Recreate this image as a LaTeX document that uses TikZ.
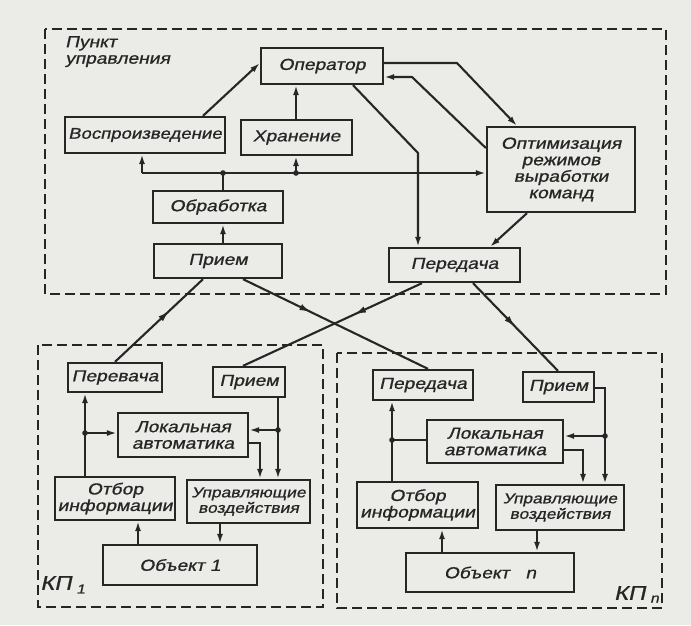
\documentclass[tikz,border=0pt]{standalone}
\usepackage{fontspec}
\newfontfamily\dfont{Liberation Sans}[FakeStretch=1.2,FakeSlant=0.22,FakeBold=0.9]
\usetikzlibrary{arrows.meta,decorations.markings}
\definecolor{paper}{RGB}{235,235,232}
\definecolor{ink}{RGB}{38,38,38}
\tikzset{
 blk/.style={draw=ink, line width=2.3pt, inner sep=1pt, align=center, text=ink,
   font=\dfont\fontsize{16}{16.5}\selectfont},
 lbl/.style={inner sep=0pt, text=ink, font=\dfont\fontsize{16}{16.5}\selectfont},
 ln/.style={color=ink, line width=2.1pt},
 arr/.style={ln, -{Latex[length=10pt,width=6pt]}},
 frame/.style={draw=ink, line width=1.5pt, dash pattern=on 10pt off 5pt},
 midarr/.style={ln, postaction={decorate}, decoration={markings,
   mark=at position #1 with {\arrow{Latex[length=12pt,width=6.5pt]}}}},
}
\begin{document}
\begin{tikzpicture}[x=1pt,y=-1pt]
\fill[paper] (0,0) rectangle (691,625);
\useasboundingbox (0,0) rectangle (691,625);
% frames
\draw[frame] (45,29) rectangle (666,294);
\draw[frame] (38,345) rectangle (323,607);
\draw[frame] (337,353) rectangle (662,608);
\node[lbl, anchor=north west, align=left] (pu) at (65,36) {Пункт\\управления};
\node[lbl, anchor=west, font=\dfont\fontsize{20}{20}\selectfont] (kp1) at (40,583) {КП};
\node[lbl, anchor=west, font=\dfont\fontsize{13}{13}\selectfont] (kp1s) at ([xshift=4.5pt,yshift=-6pt]kp1.east) {1};
\node[lbl, anchor=east, font=\dfont\fontsize{13}{13}\selectfont] (kpns) at (659,599) {n};
\node[lbl, anchor=east, font=\dfont\fontsize{20}{20}\selectfont] (kpn) at ([xshift=-4.5pt,yshift=6pt]kpns.west) {КП};
% top boxes
\node[blk, minimum width=122pt, minimum height=36pt] (op) at (322,66) {Оператор};
\node[blk, minimum width=160pt, minimum height=36pt, font=\dfont\fontsize{15.5}{16}\selectfont] (vos) at (145,135) {Воспроизведение};
\node[blk, minimum width=111pt, minimum height=35pt] (hran) at (296.5,137.5) {Хранение};
\node[blk, minimum width=148pt, minimum height=85pt] (opt) at (561,169.5) {Оптимизация\\режимов\\выработки\\команд};
\node[blk, minimum width=130pt, minimum height=32pt] (obr) at (218,207) {Обработка};
\node[blk, minimum width=128pt, minimum height=34pt] (pri) at (218,261) {Прием};
\node[blk, minimum width=131pt, minimum height=34pt] (per) at (454.5,265) {Передача};
% KP1 boxes
\node[blk, minimum width=94pt, minimum height=29pt] (aper) at (115,377.5) {Перевача};
\node[blk, minimum width=72pt, minimum height=30pt] (apri) at (249,382) {Прием};
\node[blk, minimum width=130pt, minimum height=44pt] (alok) at (183,435) {Локальная\\автоматика};
\node[blk, minimum width=120pt, minimum height=43pt] (aotb) at (115,498.5) {Отбор\\информации};
\node[blk, minimum width=123pt, minimum height=43pt, font=\dfont\fontsize{14.5}{15.5}\selectfont] (aupr) at (248.5,501.5) {Управляющие\\воздействия};
\node[blk, minimum width=154pt, minimum height=40pt] (aobj) at (180,565) {Объект 1};
% KPn boxes
\node[blk, minimum width=100pt, minimum height=30pt] (bper) at (423,385) {Передача};
\node[blk, minimum width=71pt, minimum height=30pt] (bpri) at (558.5,387) {Прием};
\node[blk, minimum width=136pt, minimum height=43pt] (blok) at (495,441.5) {Локальная\\автоматика};
\node[blk, minimum width=121pt, minimum height=46pt] (botb) at (417.5,505) {Отбор\\информации};
\node[blk, minimum width=128pt, minimum height=45pt, font=\dfont\fontsize{14.5}{15.5}\selectfont] (bupr) at (560,507.5) {Управляющие\\воздействия};
\node[blk, minimum width=168pt, minimum height=39pt] (bobj) at (490,572.5) {Объект\quad n};
% top connectors
\coordinate (b1) at (142,173);
\coordinate (b2) at (223,173);
\coordinate (b3) at (296,173);
\draw[arr] (203,0 |- vos.north) -- (op.west |- 0,63);
\draw[arr] (b3 |- hran.north) -- (b3 |- op.south);
\draw[arr] (b1) -- (b1 |- vos.south);
\draw[arr] (b1) -- (opt.west |- b1);
\draw[arr] (b3) -- (b3 |- hran.south);
\draw[ln] (b2 |- obr.north) -- (b2);
\draw[arr] (b2 |- pri.north) -- (b2 |- obr.south);
\fill[ink] (b2) circle (2.8pt);
\fill[ink] (b3) circle (2.8pt);
\draw[arr] (353,0 |- op.south) -- (418,153) -- (418,0 |- per.north);
\draw[arr] (op.east |- 0,63) -- (457,63) -- (517,0 |- opt.north);
\draw[arr] (opt.west |- 0,148) -- (412,77) -- (op.east |- 0,77);
\draw[arr] (527,0 |- opt.south) -- (490,0 |- per.north);
% crossing links
\draw[midarr=0.62] (115,0 |- aper.north) -- (203,0 |- pri.south);
\draw[midarr=0.37] (243,0 |- pri.south) -- (428,0 |- bper.north);
\draw[midarr=0.38] (422,0 |- per.south) -- (243,0 |- apri.north);
\draw[midarr=0.5] (473,0 |- per.south) -- (558,0 |- bpri.north);
% KP1 connectors
\coordinate (c1) at (85,433);
\coordinate (c2) at (278,430);
\draw[arr] (c1 |- aotb.north) -- (c1 |- aper.south);
\draw[arr] (c1) -- (alok.west |- c1);
\fill[ink] (c1) circle (2.8pt);
\draw[arr] (c2 |- apri.south) -- (c2 |- aupr.north);
\draw[arr] (c2) -- (alok.east |- c2);
\fill[ink] (c2) circle (2.8pt);
\draw[arr] (alok.east |- 0,443) -- (260,443) -- (260,0 |- aupr.north);
\draw[arr] (220,0 |- aupr.south) -- (220,0 |- aobj.north);
\draw[arr] (138,0 |- aobj.north) -- (138,0 |- aotb.south);
% KPn connectors
\coordinate (d1) at (392,440);
\coordinate (d2) at (605,436);
\draw[arr] (d1 |- botb.north) -- (d1 |- bper.south);
\draw[ln] (d1) -- (blok.west |- d1);
\fill[ink] (d1) circle (2.8pt);
\draw[arr] (bpri.east |- 0,388) -- (605,388) -- (d2 |- bupr.north);
\draw[arr] (d2) -- (blok.east |- d2);
\fill[ink] (d2) circle (2.8pt);
\draw[arr] (blok.east |- 0,450) -- (583,450) -- (583,0 |- bupr.north);
\draw[arr] (537,0 |- bupr.south) -- (537,0 |- bobj.north);
\draw[arr] (442,0 |- bobj.north) -- (442,0 |- botb.south);
\end{tikzpicture}
\end{document}
